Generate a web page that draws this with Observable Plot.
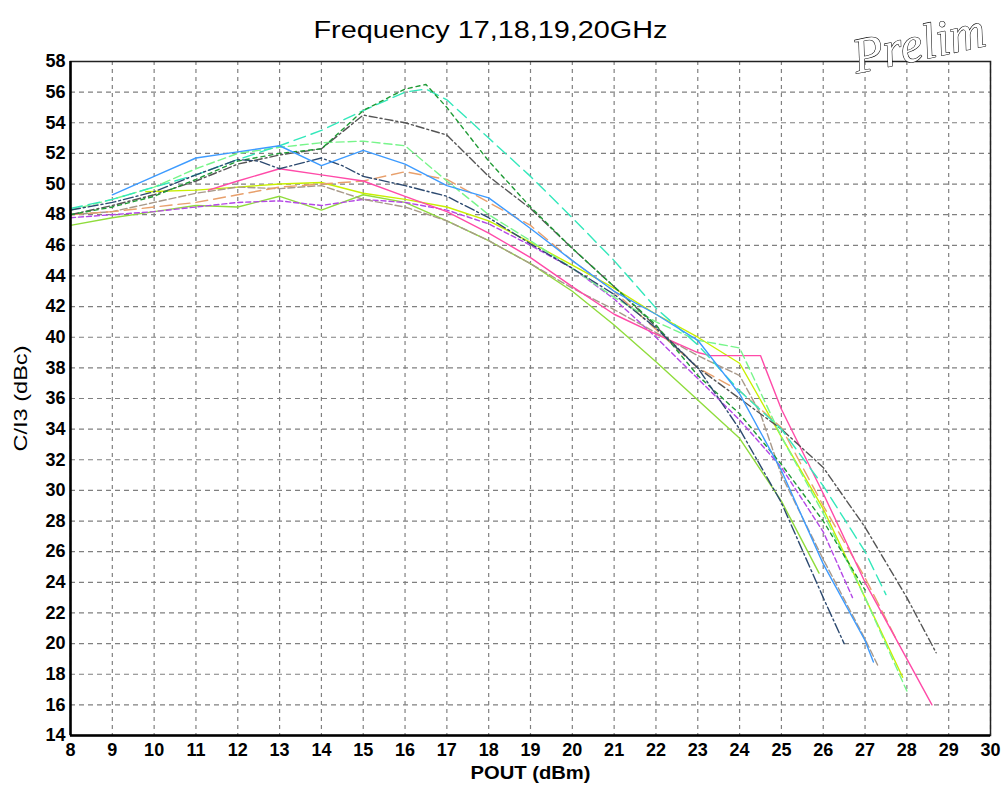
<!DOCTYPE html>
<html>
<head>
<meta charset="utf-8">
<script src="https://cdn.jsdelivr.net/npm/d3@7"></script>
<script src="https://cdn.jsdelivr.net/npm/@observablehq/plot@0.6"></script>
<style>
  html, body { margin: 0; padding: 0; background: #fff; overflow: hidden; }
  #chart svg { display: block; }
</style>
</head>
<body>
<div id="chart"></div>
<script>
// ---- Data ----
const titleText = "Frequency 17,18,19,20GHz";
const xLabel = "POUT (dBm)";
const yLabel = "C/I3 (dBc)";
const watermark = "Prelim";

const xTicks = [8,9,10,11,12,13,14,15,16,17,18,19,20,21,22,23,24,25,26,27,28,29,30];
const yTicks = [14,16,18,20,22,24,26,28,30,32,34,36,38,40,42,44,46,48,50,52,54,56,58];

const blueX = [9,10,11,12,13,14,15,16,17,18,19,20,21,22,23,24,25,26,27,27.2];
const blueY = [49.3,50.5,51.7,52.1,52.5,51.2,52.2,51.3,49.9,49.1,47.1,45.0,43.0,41.5,39.8,36.3,31.3,25.2,20.2,18.8];

const navyX = [8,9,10,11,12,12.5,13,14,14.5,15,16,17,18,19,20,21,22,23,24,25,26,26.5];
const navyY = [48.3,48.8,49.5,50.6,51.6,51.5,51.0,51.7,51.2,50.5,49.9,49.2,47.8,46.1,44.5,42.8,40.6,38.0,34.0,29.2,23.0,20.0];

const dkGreenX = [8,9,10,11,12,13,14,15,16,16.5,17,18,19,20,21,22,23,24,25,26,27];
const dkGreenY = [48.0,48.5,49.2,50.3,51.5,52.0,52.3,54.8,56.2,56.5,55.0,51.5,48.5,45.8,43.3,40.8,37.5,35.0,31.7,28.0,23.5];

const aquaX = [8,9,10,11,12,13,14,15,16,16.5,17,18,19,20,21,22,23,24,25,26,27,27.5];
const aquaY = [48.4,49.0,49.8,50.6,51.6,52.5,53.5,54.8,56.0,56.2,55.5,53.0,50.5,47.8,45.0,41.9,39.5,36.5,34.0,30.3,26.0,23.2];

const grayX = [8,9,10,11,12,13,14,15,16,17,18,19,20,21,22,23,24,25,26,27,28,28.7];
const grayY = [48.0,48.6,49.3,50.2,51.3,51.9,52.3,54.5,54.0,53.2,50.5,48.4,45.8,43.3,40.7,38.0,36.0,34.0,31.5,27.6,23.0,19.4];

const ltGreenX = [8,9,10,11,12,13,14,15,16,17,18,19,20,21,22,23,24,25,26,27,28];
const ltGreenY = [48.3,49.0,49.8,51.0,52.0,52.4,52.7,52.8,52.5,50.2,48.0,46.3,44.5,42.6,41.0,39.8,39.3,33.5,28.5,23.0,16.9];

const orangeX = [8,9,10,11,12,13,14,15,16,17,18,19,20,21,22,23,24,25,26,27,27.8];
const orangeY = [48.0,48.2,48.5,48.8,49.3,49.8,50.0,50.2,50.8,50.3,48.8,47.3,45.0,43.0,40.5,38.0,36.5,34.1,29.0,24.3,20.0];

const tanX = [8,9,10,11,12,13,14,15,16,17,18,19,20,21,22,23,24,24.5,25,26,27,27.3];
const tanY = [48.0,48.2,48.8,49.4,49.8,49.7,49.9,49.0,48.5,47.6,46.3,44.8,43.2,41.8,40.3,38.8,37.5,35.0,31.0,25.5,20.3,18.6];

const purpleX = [8,9,10,11,12,13,14,15,16,17,18,19,20,21,22,23,24,25,26,26.7];
const purpleY = [47.8,48.0,48.2,48.5,48.8,48.9,48.6,49.0,48.8,48.3,47.4,46.0,44.5,42.5,40.0,37.3,34.6,31.5,27.3,23.0];

const pinkX = [11.3,12,13,14,15,16,17,18,19,20,21,22,23,23.3,24.5,25,26,27,28,28.6];
const pinkY = [49.6,50.2,51.0,50.6,50.2,49.2,48.2,46.8,45.2,43.3,41.5,40.2,39.0,38.8,38.8,35.3,29.8,24.0,19.0,16.0];

const yellowX = [9.8,11,12,13,14,15,16,17,18,19,20,21,22,23,24,25,26,27,27.9];
const yellowY = [49.5,49.6,49.8,50.0,50.1,49.4,49.0,48.5,47.6,46.2,44.7,43.2,41.5,40.0,38.3,33.5,28.8,23.0,17.8];

const greenX = [8,9,10,11,12,13,14,15,16,17,18,19,20,21,22,23,24,25,25.9];
const greenY = [47.3,47.8,48.2,48.6,48.5,49.2,48.3,49.3,48.8,47.6,46.3,44.8,43.0,40.8,38.4,35.9,33.4,29.3,24.6];

// ---- Build series table ----
const seriesDefs = [
  {xs: greenX,   ys: greenY,   stroke: "#8fdc3c", dash: null},
  {xs: yellowX,  ys: yellowY,  stroke: "#c8ef00", dash: null},
  {xs: purpleX,  ys: purpleY,  stroke: "#b447e6", dash: "5,3"},
  {xs: tanX,     ys: tanY,     stroke: "#a8998a", dash: "7,3"},
  {xs: orangeX,  ys: orangeY,  stroke: "#e8a06c", dash: "12,6"},
  {xs: pinkX,    ys: pinkY,    stroke: "#ff4aa8", dash: null},
  {xs: ltGreenX, ys: ltGreenY, stroke: "#77f58a", dash: "8,4"},
  {xs: grayX,    ys: grayY,    stroke: "#555555", dash: "8,3,2,3"},
  {xs: aquaX,    ys: aquaY,    stroke: "#33e8bb", dash: "12,6"},
  {xs: dkGreenX, ys: dkGreenY, stroke: "#1f9a35", dash: "4,4"},
  {xs: navyX,    ys: navyY,    stroke: "#2d4a70", dash: "10,3,2,3"},
  {xs: blueX,    ys: blueY,    stroke: "#3d9bff", dash: null}
];

const lineMarks = seriesDefs.map(s =>
  Plot.line(s.xs.map((x, i) => ({x, y: s.ys[i]})), {
    x: "x", y: "y",
    stroke: s.stroke,
    strokeWidth: 1.4,
    strokeDasharray: s.dash
  })
);

const chart = Plot.plot({
  width: 1002,
  height: 796,
  marginLeft: 70,
  marginRight: 12,
  marginTop: 61,
  marginBottom: 61,
  style: {
    fontFamily: "'Liberation Sans', Arial, sans-serif",
    fontSize: "17px",
    background: "#ffffff",
    color: "#000"
  },
  x: {domain: [8, 30], label: null},
  y: {domain: [14, 58], label: null},
  marks: [
    Plot.gridX(xTicks, {stroke: "#808080", strokeOpacity: 1, strokeWidth: 1.2, strokeDasharray: "4,4"}),
    Plot.gridY(yTicks, {stroke: "#808080", strokeOpacity: 1, strokeWidth: 1.2, strokeDasharray: "5,4"}),
    ...lineMarks,
    Plot.frame({stroke: "#222", strokeWidth: 1.5}),
    Plot.ruleX([8], {stroke: "#000", strokeWidth: 2.5}),
    Plot.ruleY([14], {stroke: "#000", strokeWidth: 2.5}),
    Plot.axisX(xTicks, {tickSize: 0, tickPadding: 8, fontWeight: "bold", fontSize: 18, tickFormat: d => String(d), label: null}),
    Plot.axisY(yTicks, {tickSize: 0, tickPadding: 5, fontWeight: "bold", fontSize: 18, tickFormat: d => String(d), label: null}),
    Plot.text([xLabel], {frameAnchor: "bottom", dy: 43, fontSize: 19, fontWeight: "bold", fill: "#000"}),
    Plot.text([yLabel], {frameAnchor: "left", textAnchor: "middle", dx: -50, rotate: -90, fontSize: 19, fill: "#000"}),
    Plot.text([titleText], {frameAnchor: "top", dx: -40, dy: -40, fontSize: 23, fill: "#000"}),
    Plot.text([watermark], {
      frameAnchor: "top-right", dx: -134, dy: 12,
      textAnchor: "start", lineAnchor: "bottom",
      rotate: -12,
      fontSize: 50, fontStyle: "italic",
      fontFamily: "'Liberation Serif', 'DejaVu Serif', serif",
      fill: "#ffffff", stroke: "#000000", strokeWidth: 1.1
    })
  ]
});

// stretch a few texts horizontally to match the reference's widths
const stretch = {[titleText]: 354, [xLabel]: 120, [yLabel]: 106};
d3.select(chart).selectAll("text").each(function () {
  const t = this.textContent;
  if (stretch[t] && this.children.length === 0) {
    this.setAttribute("textLength", stretch[t]);
    this.setAttribute("lengthAdjust", "spacingAndGlyphs");
  }
});

document.getElementById("chart").appendChild(chart);
</script>
</body>
</html>
